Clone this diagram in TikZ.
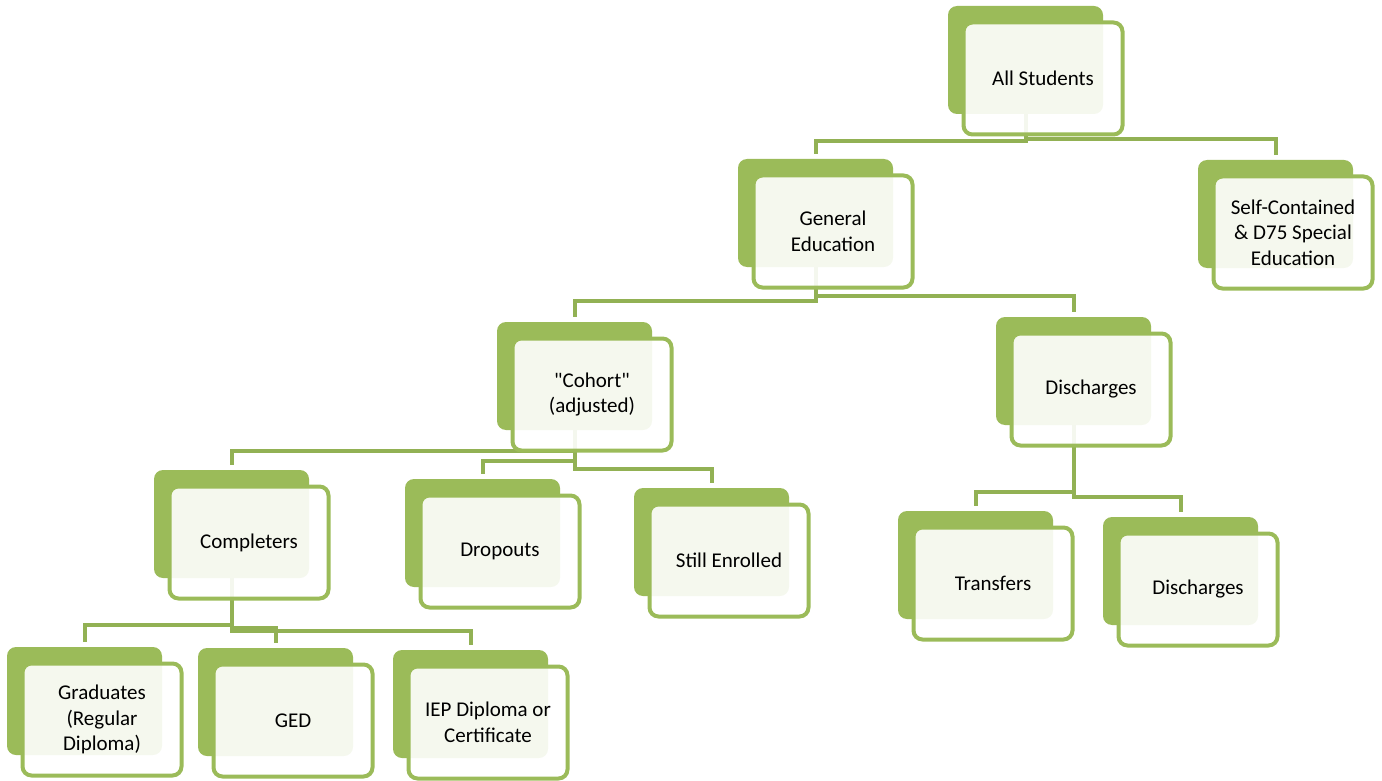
\documentclass[tikz,border=0pt]{standalone}
\usepackage{fontspec}
\setmainfont{Carlito}
\definecolor{ogreen}{HTML}{9BBB59}
\definecolor{lgreen}{HTML}{92B154}
\pgfdeclarelayer{background}
\pgfsetlayers{background,main}
\begin{document}
\begin{tikzpicture}[x=1pt,y=-1pt,
  backbox/.style={fill=ogreen, draw=none, rounded corners=9pt,
    minimum width=155pt, minimum height=108pt, inner sep=0pt},
  frontbox/.style={fill=white, fill opacity=0.9, text opacity=1, draw=ogreen,
    line width=4pt, rounded corners=9pt, minimum width=159pt, minimum height=112pt,
    inner sep=0pt, align=center, text=black,
    font=\fontsize{21}{25.5}\selectfont},
  link/.style={draw=lgreen, line width=4pt, shorten >=5pt}
]
\useasboundingbox (0,0) rectangle (1382,781);

% card = solid back tab + translucent front panel carrying the label
\newcommand{\card}[4]{%
  \node[backbox] (#1-b) at (#2,#3) {};
  \node[frontbox] (#1) at ([shift={(17.5,18.5)}]#1-b.center) {#4};}

\card{all}{1025.5}{60}{All Students}
\card{gen}{815.5}{213}{General\\Education}
\card{self}{1275.5}{214}{Self-Contained\\\& D75 Special\\Education}
\card{cohort}{574.5}{376}{\textquotedbl Cohort\textquotedbl\\(adjusted)}
\card{disa}{1073.5}{371}{Discharges}
\card{comp}{231.5}{524}{Completers}
\card{drop}{482.5}{533}{Dropouts}
\card{still}{711.5}{542}{Still Enrolled}
\card{trans}{975.5}{565}{Transfers}
\card{disb}{1180.5}{571}{Discharges}
\card{grad}{84.5}{701}{Graduates\\(Regular\\Diploma)}
\card{ged}{275.5}{702}{GED}
\card{iep}{470.5}{704}{IEP Diploma or\\Certificate}

% elbow connectors, drawn beneath the cards
\begin{pgfonlayer}{background}
\draw[link] (all-b.south) -- (all-b.south |- 0,141) -| (gen-b.north);
\draw[link] (all-b.south) -- (all-b.south |- 0,139) -| (self-b.north);
\draw[link] (gen-b.south) -- (gen-b.south |- 0,301) -| (cohort-b.north);
\draw[link] (gen-b.south) -- (gen-b.south |- 0,296) -| (disa-b.north);
\draw[link] (cohort-b.south) -- (cohort-b.south |- 0,451) -| (comp-b.north);
\draw[link] (cohort-b.south) -- (cohort-b.south |- 0,461) -| (drop-b.north);
\draw[link] (cohort-b.south) -- (cohort-b.south |- 0,469) -| (still-b.north);
\draw[link] (disa-b.south) -- (disa-b.south |- 0,492) -| (trans-b.north);
\draw[link] (disa-b.south) -- (disa-b.south |- 0,497) -| (disb-b.north);
\draw[link] (comp-b.south) -- (comp-b.south |- 0,625) -| (grad-b.north);
\draw[link] (comp-b.south) -- (comp-b.south |- 0,628) -| (ged-b.north);
\draw[link] (comp-b.south) -- (comp-b.south |- 0,631) -| (iep-b.north);
\end{pgfonlayer}
\end{tikzpicture}
\end{document}
